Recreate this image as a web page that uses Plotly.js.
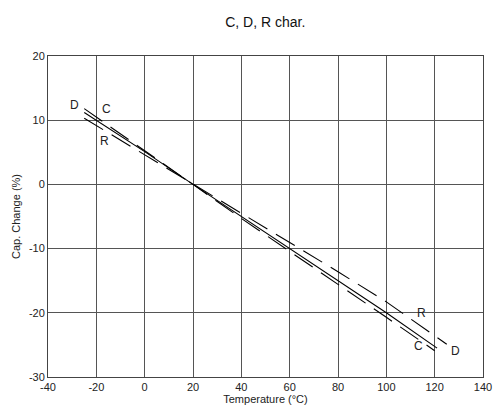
<!DOCTYPE html>
<html>
<head>
<meta charset="utf-8">
<script src="https://cdn.plot.ly/plotly-3.0.1.min.js"></script>
<style>html,body{margin:0;padding:0;background:#fff;}#chart{width:495px;height:411px;}</style>
</head>
<body>
<div id="chart"></div>
<script>
// D characteristic (solid)
var dTemp = [-25, 0, 20, 40, 60, 80, 100, 121];
var dCap  = [11.2, 5.1, 0, -5.0, -10.0, -15.0, -20.0, -25.5];
// C characteristic (dashed, steeper)
var cTemp = [-25, 0, 20, 40, 60, 80, 100, 120];
var cCap  = [11.8, 5.3, 0, -5.3, -10.4, -15.5, -20.7, -25.9];
// R characteristic (dashed, flatter)
var rTemp = [-25, 0, 20, 40, 60, 80, 100, 125];
var rCap  = [10.3, 4.6, 0, -4.5, -9.0, -13.6, -18.3, -24.9];

var xTicks = [-40, -20, 0, 20, 40, 60, 80, 100, 120, 140];
var yTicks = [-30, -20, -10, 0, 10, 20];

var labels = [
  {t: 'D', x: -28.9, y: 12.3},
  {t: 'C', x: -16.0, y: 11.8},
  {t: 'R', x: -16.5, y: 6.7},
  {t: 'R', x: 114.5, y: -20.1},
  {t: 'C', x: 113.3, y: -25.1},
  {t: 'D', x: 128.6, y: -25.9}
];

var traces = [
  {x: dTemp, y: dCap, name: 'D', mode: 'lines', line: {color: '#000', width: 1.1}},
  {x: cTemp, y: cCap, name: 'C', mode: 'lines', line: {color: '#000', width: 1.1, dash: '22px,10px'}},
  {x: rTemp, y: rCap, name: 'R', mode: 'lines', line: {color: '#000', width: 1.1, dash: '22px,10px'}}
];

var font = {family: 'Liberation Sans, Arial, sans-serif', color: '#222'};

var layout = {
  width: 495, height: 411,
  margin: {l: 48, r: 12, t: 56, b: 34},
  paper_bgcolor: '#fff', plot_bgcolor: '#fff',
  showlegend: false,
  font: font,
  title: {text: 'C, D, R char.', x: 0.536, xanchor: 'center', y: 0.947, yanchor: 'middle',
          font: {family: font.family, size: 14, color: '#111'}},
  xaxis: {
    range: [-40, 140], tickvals: xTicks, ticktext: xTicks.map(String),
    showgrid: true, gridcolor: '#555', gridwidth: 1,
    zeroline: false, showline: true, linecolor: '#444', linewidth: 1, mirror: true,
    ticks: '', tickfont: {size: 11, color: '#222'},
    title: {text: 'Temperature (°C)', standoff: 3, font: {size: 11, color: '#222'}}
  },
  yaxis: {
    range: [-30, 20], tickvals: yTicks, ticktext: yTicks.map(String),
    showgrid: true, gridcolor: '#555', gridwidth: 1,
    zeroline: false, showline: true, linecolor: '#444', linewidth: 1, mirror: true,
    ticks: '', tickfont: {size: 11, color: '#222'},
    title: {text: 'Cap. Change (%)', standoff: 6, font: {size: 11, color: '#222'}}
  },
  annotations: labels.map(function(l){
    return {x: l.x, y: l.y, xref: 'x', yref: 'y', text: l.t, showarrow: false,
            font: {size: 12, color: '#222', family: font.family}};
  })
};

Plotly.newPlot('chart', traces, layout, {staticPlot: true, displayModeBar: false});
</script>
</body>
</html>
